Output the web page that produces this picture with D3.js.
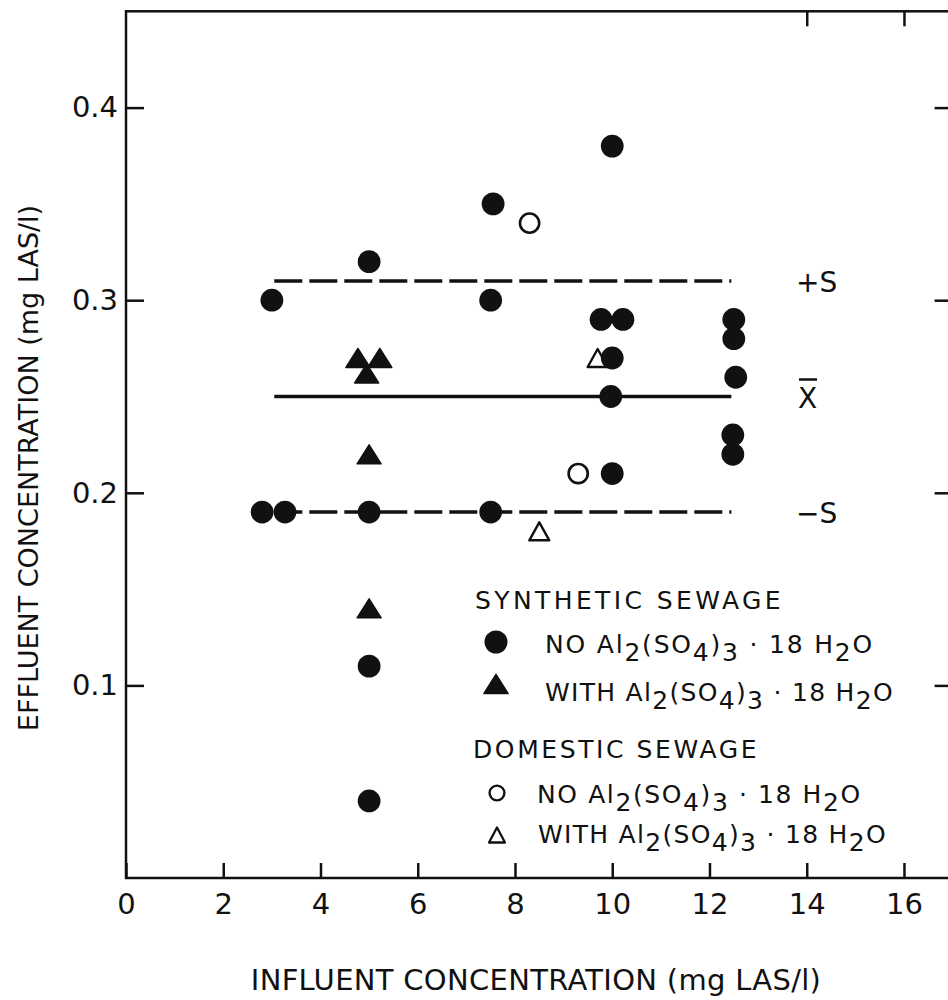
<!DOCTYPE html>
<html>
<head>
<meta charset="utf-8">
<script src="https://cdn.jsdelivr.net/npm/d3@7/dist/d3.min.js"></script>
<style>
  html, body { margin: 0; padding: 0; background: #fff; }
  svg { display: block; font-family: "DejaVu Sans", Verdana, sans-serif; }
  text { fill: #111; }
</style>
</head>
<body>
<svg id="chart" width="948" height="1000"></svg>
<script>
// Influent vs effluent LAS concentration, mg LAS/l
const synNoAlX = [3.0, 2.8, 3.27, 5.0, 5.0, 5.0, 5.0, 7.55, 7.5, 7.5, 10.0, 9.77, 10.22, 10.0, 9.97, 10.0, 12.5, 12.5, 12.54, 12.48, 12.48];
const synNoAlY = [0.30, 0.19, 0.19, 0.32, 0.19, 0.11, 0.04, 0.35, 0.30, 0.19, 0.38, 0.29, 0.29, 0.27, 0.25, 0.21, 0.29, 0.28, 0.26, 0.23, 0.22];
const synAlX = [4.77, 5.22, 4.95, 5.0, 5.0];
const synAlY = [0.27, 0.27, 0.262, 0.22, 0.14];
const domNoAlX = [8.3, 9.3];
const domNoAlY = [0.34, 0.21];
const domAlX = [9.7, 8.5];
const domAlY = [0.27, 0.18];

// Mean and +/- one standard deviation
const meanValue = 0.25;
const plusS = 0.31;
const minusS = 0.19;
const statRange = [3.05, 12.45];

const xTicks = [0, 2, 4, 6, 8, 10, 12, 14, 16];
const yTicks = [0.1, 0.2, 0.3, 0.4];
const yTickLabels = ["0.1", "0.2", "0.3", "0.4"];
const topTicks = [14, 16];

const svg = d3.select("#chart");
const ink = "#111";

const x = d3.scaleLinear().domain([0, 17]).range([126, 952.6]);
const y = d3.scaleLinear().domain([0, 0.45]).range([878, 11.3]);

// frame
svg.append("rect")
  .attr("x", x(0)).attr("y", y(0.45))
  .attr("width", x(17) - x(0)).attr("height", y(0) - y(0.45))
  .attr("fill", "none").attr("stroke", ink).attr("stroke-width", 2.5);

// axes
const fontTick = 29;
const gx = svg.append("g").attr("transform", `translate(0,${y(0)})`)
  .call(d3.axisBottom(x).tickValues(xTicks).tickSize(-15).tickPadding(15).tickFormat(d3.format("d")));
const gy = svg.append("g").attr("transform", `translate(${x(0)},0)`)
  .call(d3.axisLeft(y).tickValues(yTicks).tickSize(-18).tickPadding(8).tickFormat((d, i) => yTickLabels[i]));
const gr = svg.append("g").attr("transform", `translate(${x(17)},0)`)
  .call(d3.axisRight(y).tickValues(yTicks).tickSize(-18).tickFormat(""));
const gt = svg.append("g").attr("transform", `translate(0,${y(0.45)})`)
  .call(d3.axisTop(x).tickValues(topTicks).tickSize(-15).tickFormat(""));

[gx, gy, gr, gt].forEach(g => {
  g.select(".domain").remove();
  g.selectAll(".tick line").attr("stroke", ink).attr("stroke-width", 2.5);
  g.selectAll(".tick text").attr("font-size", fontTick).attr("fill", ink)
    .attr("font-family", "DejaVu Sans, Verdana, sans-serif");
});

// axis titles
svg.append("text")
  .attr("x", 536).attr("y", 990)
  .attr("text-anchor", "middle")
  .attr("font-size", 29).attr("letter-spacing", 0.3)
  .text("INFLUENT CONCENTRATION (mg LAS/l)");
svg.append("text")
  .attr("transform", `translate(38,468) rotate(-90)`)
  .attr("text-anchor", "middle")
  .attr("font-size", 27)
  .text("EFFLUENT CONCENTRATION (mg LAS/l)");

// mean and +/- S lines
const statLine = (v, dashed) => svg.append("line")
  .attr("x1", x(statRange[0])).attr("x2", x(statRange[1]))
  .attr("y1", y(v)).attr("y2", y(v))
  .attr("stroke", ink).attr("stroke-width", 3.5)
  .attr("stroke-dasharray", dashed ? "28 7" : null);
statLine(plusS, true);
statLine(meanValue, false);
statLine(minusS, true);

svg.append("text").attr("x", 796).attr("y", y(plusS) + 11).attr("font-size", 28).text("+S");
svg.append("text").attr("x", 798).attr("y", y(meanValue) + 11).attr("font-size", 28).text("X");
svg.append("line").attr("x1", 799).attr("x2", 817).attr("y1", y(meanValue) - 17).attr("y2", y(meanValue) - 17)
  .attr("stroke", ink).attr("stroke-width", 2.5);
svg.append("text").attr("x", 796).attr("y", y(minusS) + 11).attr("font-size", 28).text("\u2212S");

// symbol shapes
function triPath(w, h) {
  return `M0,${-h / 2}L${w / 2},${h / 2}L${-w / 2},${h / 2}Z`;
}
function drawCircles(xs, ys, filled, r) {
  svg.append("g").selectAll("circle").data(xs.map((d, i) => [d, ys[i]])).join("circle")
    .attr("cx", d => x(d[0])).attr("cy", d => y(d[1])).attr("r", r)
    .attr("fill", filled ? ink : "#fff")
    .attr("stroke", ink).attr("stroke-width", filled ? 0 : 2.6);
}
function drawTriangles(xs, ys, filled, w, h) {
  svg.append("g").selectAll("path").data(xs.map((d, i) => [d, ys[i]])).join("path")
    .attr("transform", d => `translate(${x(d[0])},${y(d[1])})`)
    .attr("d", triPath(w, h))
    .attr("fill", filled ? ink : "#fff")
    .attr("stroke", ink).attr("stroke-width", filled ? 1.5 : 2.4)
    .attr("stroke-linejoin", "round");
}

drawTriangles(domAlX, domAlY, false, 20, 18);
drawCircles(domNoAlX, domNoAlY, false, 9.6);
drawCircles(synNoAlX, synNoAlY, true, 11.4);
drawTriangles(synAlX, synAlY, true, 24, 19);

// legend
const legend = svg.append("g");
const fs = 25;
function formula(prefix, baseY, startX, ls) {
  const txt = legend.append("text").attr("x", startX).attr("y", baseY)
    .attr("font-size", fs).attr("letter-spacing", ls);
  const parts = [
    [prefix + "Al", 0], ["2", 1], ["(SO", 0], ["4", 1], [")", 0], ["3", 1], [" \u00b7 18 H", 0], ["2", 1], ["O", 0]
  ];
  let cur = 0;
  parts.forEach(([s, sub]) => {
    const off = sub ? 8 : 0;
    txt.append("tspan").attr("dy", off - cur).text(s);
    cur = off;
  });
}
legend.append("text").attr("x", 475).attr("y", 609).attr("font-size", fs).attr("letter-spacing", 3.4).text("SYNTHETIC SEWAGE");
legend.append("circle").attr("cx", 496).attr("cy", 642).attr("r", 11.5).attr("fill", ink);
formula("NO  ", 653, 545, 1.8);
legend.append("path").attr("transform", "translate(496,684)").attr("d", triPath(24, 19))
  .attr("fill", ink).attr("stroke", ink).attr("stroke-width", 1.5).attr("stroke-linejoin", "round");
formula("WITH ", 701, 545, 1.3);

legend.append("text").attr("x", 473).attr("y", 758).attr("font-size", fs).attr("letter-spacing", 2.6).text("DOMESTIC SEWAGE");
legend.append("circle").attr("cx", 497).attr("cy", 793).attr("r", 7.4).attr("fill", "#fff").attr("stroke", ink).attr("stroke-width", 2.4);
formula("NO  ", 803, 537, 1.6);
legend.append("path").attr("transform", "translate(497,835)").attr("d", triPath(16, 15))
  .attr("fill", "#fff").attr("stroke", ink).attr("stroke-width", 2.3).attr("stroke-linejoin", "round");
formula("WITH  ", 843, 538, 1.3);
</script>
</body>
</html>
